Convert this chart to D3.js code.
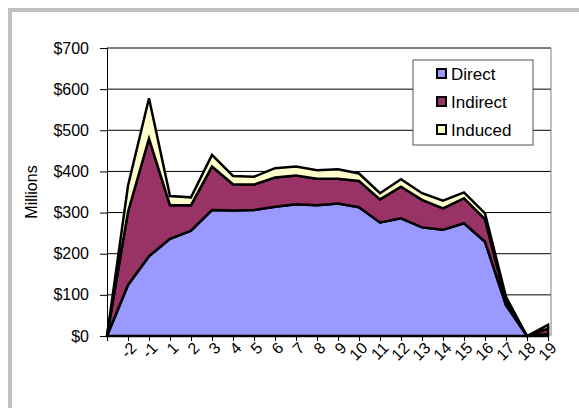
<!DOCTYPE html>
<html>
<head>
  <meta charset="UTF-8">
  <title>Economic impact by year</title>
  <script src="https://d3js.org/d3.v7.min.js"></script>
  <style>
    body { margin: 0; background: #fff; }
    svg { display: block; font-family: "Liberation Sans", Arial, sans-serif; }
    .tick text { font-size: 16px; fill: #000; }
    .legend text { font-size: 17px; }
  </style>
</head>
<body>
  <svg width="579" height="408"></svg>

  <script>
    // categories (first point has no label)
    const years = ["", "-2", "-1", "1", "2", "3", "4", "5", "6", "7", "8", "9", "10",
                   "11", "12", "13", "14", "15", "16", "17", "18", "19"];
    // $ millions
    const direct   = [0, 124, 194, 236, 256, 306, 305, 306, 314, 320, 318, 322, 313, 276, 286, 264, 258, 274, 229, 75, 0, 5];
    const indirect = [0, 178, 286, 82, 62, 106, 64, 62, 71, 70, 64, 60, 64, 56, 77, 67, 52, 61, 55, 10, 0, 13];
    const induced  = [0, 63, 98, 22, 19, 28, 20, 19, 23, 22, 21, 23, 18, 15, 18, 16, 19, 14, 14, 10, 0, 9];
    const seriesNames = ["Direct", "Indirect", "Induced"];
    const colors = ["#9999ff", "#993366", "#ffffcc"];
    const yTicks = [0, 100, 200, 300, 400, 500, 600, 700];

    const rows = years.map((yr, i) => ({ year: yr, i: i, Direct: direct[i], Indirect: indirect[i], Induced: induced[i] }));

    const svg = d3.select("svg");
    const pLeft = 107, pRight = 551, pTop = 48, pBottom = 336;

    // grey frame along top and left
    svg.append("rect").attr("x", 8).attr("y", 8).attr("width", 580).attr("height", 4).attr("fill", "#c0c0c0");
    svg.append("rect").attr("x", 8).attr("y", 8).attr("width", 4).attr("height", 410).attr("fill", "#c0c0c0");

    const x = d3.scaleLinear().domain([0, years.length - 1]).range([pLeft, pRight - 3]);
    const y = d3.scaleLinear().domain([0, 700]).range([pBottom, pTop]);

    // gridlines
    svg.append("g")
      .selectAll("line")
      .data(yTicks.slice(1))
      .join("line")
      .attr("x1", pLeft).attr("x2", pRight)
      .attr("y1", d => y(d)).attr("y2", d => y(d))
      .attr("stroke", "#000").attr("stroke-width", 1);

    // right edge of plot
    svg.append("line")
      .attr("x1", pRight).attr("x2", pRight).attr("y1", pTop).attr("y2", pBottom)
      .attr("stroke", "#808080");

    const stack = d3.stack().keys(seriesNames)(rows);
    const area = d3.area()
      .x(d => x(d.data.i))
      .y0(d => y(d[0]))
      .y1(d => y(d[1]));

    svg.append("g")
      .selectAll("path")
      .data(stack)
      .join("path")
      .attr("d", area)
      .attr("fill", (d, i) => colors[i])
      .attr("stroke", "#000")
      .attr("stroke-width", 2.5)
      .attr("stroke-linejoin", "miter");

    // y axis
    const yAxis = svg.append("g")
      .attr("transform", `translate(${pLeft},0)`)
      .call(d3.axisLeft(y).tickValues(yTicks).tickFormat(d => "$" + d).tickSize(7).tickPadding(11));
    yAxis.select(".domain").attr("stroke", "#000");

    // x axis
    const xAxis = svg.append("g")
      .attr("transform", `translate(0,${pBottom})`)
      .call(d3.axisBottom(x).tickValues(d3.range(years.length)).tickFormat(i => years[i]).tickSize(5).tickSizeOuter(0));
    xAxis.selectAll(".tick text")
      .attr("text-anchor", "end")
      .attr("transform", "translate(5,9) rotate(-45)")
      .attr("dy", "0.35em")
      .attr("y", 0);

    // axis title
    svg.append("text")
      .attr("transform", `translate(37,${(pTop + pBottom) / 2}) rotate(-90)`)
      .attr("text-anchor", "middle")
      .attr("font-size", 16)
      .text("Millions");

    // legend
    const lg = svg.append("g").attr("class", "legend").attr("transform", "translate(413,60)");
    lg.append("rect").attr("width", 120).attr("height", 85)
      .attr("fill", "#fff").attr("stroke", "#555");
    seriesNames.forEach((name, i) => {
      lg.append("rect")
        .attr("x", 24).attr("y", 9 + i * 28)
        .attr("width", 9).attr("height", 9)
        .attr("fill", colors[i]).attr("stroke", "#000").attr("stroke-width", 2);
      lg.append("text")
        .attr("x", 38).attr("y", 14 + i * 28)
        .attr("dy", "0.35em")
        .text(name);
    });
  </script>
</body>
</html>
